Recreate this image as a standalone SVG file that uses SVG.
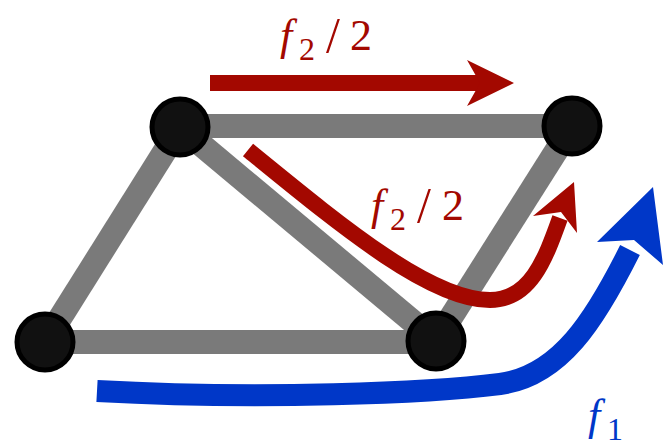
<svg xmlns="http://www.w3.org/2000/svg" width="665" height="448" viewBox="0 0 665 448">
<style>
.edge{stroke:#7a7a7a;stroke-width:24;fill:none}
.node{fill:#111;stroke:#000;stroke-width:5}
.red{stroke:#a30800;fill:none}
.blue{stroke:#0037c8;fill:none}
.lbl{font-family:"Liberation Serif",serif;font-size:44px}
.sub{font-size:32px}
.it{font-style:italic}
.sl{font-size:50px}
</style>
<rect width="665" height="448" fill="#fff"/>
<g id="edges">
<line class="edge" x1="180" y1="126" x2="572" y2="126"/>
<line class="edge" x1="180" y1="127" x2="45" y2="342"/>
<line class="edge" x1="45" y1="342" x2="436" y2="342"/>
<line class="edge" x1="180" y1="127" x2="436" y2="341"/>
<line class="edge" x1="436" y1="341" x2="572" y2="126"/>
</g>
<g id="nodes">
<g id="n1"><circle class="node" cx="180" cy="127" r="28"/></g>
<g id="n2"><circle class="node" cx="572" cy="126" r="28"/></g>
<g id="n3"><circle class="node" cx="45" cy="342" r="28"/></g>
<g id="n4"><circle class="node" cx="436" cy="341" r="28"/></g>
</g>
<g id="connectors">
<line class="red" stroke-width="16" x1="210" y1="83" x2="482" y2="83"/>
<polygon fill="#a30800" points="514,83 467,60 480,83 467,106"/>
<path class="red" stroke-width="16" d="M248,150 C340,225 430,300 490,300 C530,300 545,260 560,218"/>
<polygon fill="#a30800" points="574,182 577,233 561,212 533,216"/>
<path class="blue" stroke-width="22" d="M97,391 C260,400 430,393 500,384 C560,376 595,320 630,250"/>
<polygon fill="#0037c8" points="653,187 663,265 634,240 597,242"/>
</g>
<g id="labels">
<text class="lbl" fill="#a30800" y="50"><tspan class="it" x="280">f</tspan><tspan class="sub" x="299" y="60">2</tspan><tspan class="sl" x="326" y="52">/</tspan><tspan x="350" y="50">2</tspan></text>
<text class="lbl" fill="#a30800" y="220"><tspan class="it" x="371">f</tspan><tspan class="sub" x="390" y="230">2</tspan><tspan class="sl" x="417" y="222">/</tspan><tspan x="442" y="220">2</tspan></text>
<text class="lbl" fill="#0037c8" y="430"><tspan class="it" x="588">f</tspan><tspan class="sub" x="607" y="440">1</tspan></text>
</g>
</svg>
